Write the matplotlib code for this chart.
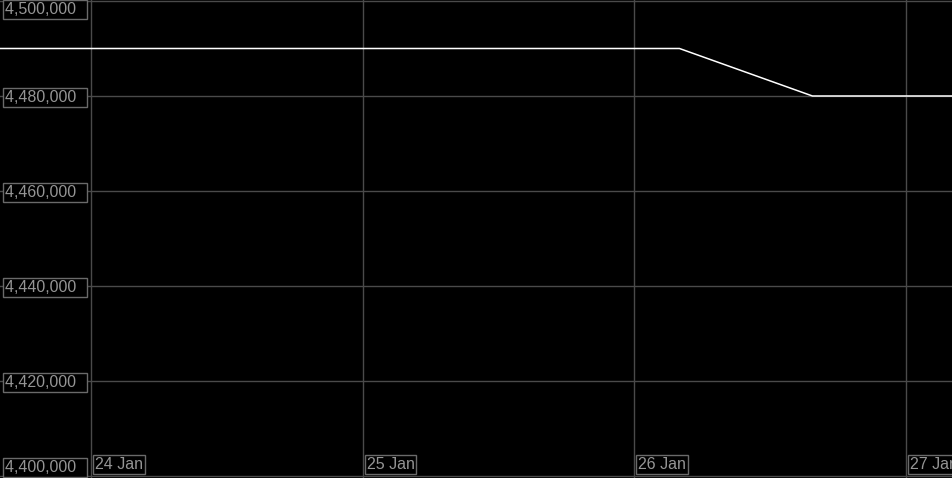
import matplotlib
matplotlib.use("Agg")
import matplotlib.pyplot as plt
import matplotlib.dates as mdates
import matplotlib.transforms as mtransforms
from datetime import datetime

# data
times = [datetime(2024, 1, 23, 15, 58), datetime(2024, 1, 26, 4, 0),
         datetime(2024, 1, 26, 15, 45), datetime(2024, 1, 27, 4, 10)]
values = [4490000, 4490000, 4480000, 4480000]
y_ticks = [4400000, 4420000, 4440000, 4460000, 4480000, 4500000]
x_ticks = [datetime(2024, 1, 24), datetime(2024, 1, 25),
           datetime(2024, 1, 26), datetime(2024, 1, 27)]
x_labels = ["24 Jan", "25 Jan", "26 Jan", "27 Jan"]

plt.rcParams["font.family"] = ["Liberation Sans", "DejaVu Sans"]
fig = plt.figure(figsize=(9.53, 4.78), dpi=100, facecolor="black")
ax = fig.add_axes([0, 0, 1, 1])
ax.set_facecolor("black")
for s in ax.spines.values():
    s.set_visible(False)

ax.plot(times, values, color="white", lw=1.1, zorder=3)

ax.set_xlim(times[0], times[-1])
ax.set_ylim(4399580, 4500210)
ax.set_xticks(x_ticks)
ax.set_yticks(y_ticks)
ax.tick_params(left=False, bottom=False, labelleft=False, labelbottom=False)
ax.grid(True, color="#4a4a4a", lw=1)

box = dict(boxstyle="square,pad=0.12", fc="black", ec="#6a6a6a", lw=1)
txt = dict(color="#959595", fontsize=11.5, zorder=5, bbox=box)

# y labels, clamped inside figure
ytrans = ax.get_yaxis_transform()
for v in y_ticks:
    label = "{:,}  ".format(v)
    if v == max(y_ticks):
        tr = mtransforms.offset_copy(ax.transAxes, fig=fig, x=5, y=-2, units="dots")
        ax.text(0, 1, label, transform=tr, ha="left", va="top", **txt)
    elif v == min(y_ticks):
        tr = mtransforms.offset_copy(ax.transAxes, fig=fig, x=5, y=3, units="dots")
        ax.text(0, 0, label, transform=tr, ha="left", va="bottom", **txt)
    else:
        tr = mtransforms.offset_copy(ytrans, fig=fig, x=5, y=0, units="dots")
        ax.text(0, v, label, transform=tr, ha="left", va="center_baseline", **txt)

# x labels
xtrans = mtransforms.offset_copy(ax.get_xaxis_transform(), fig=fig, x=4, y=6, units="dots")
for d, lab in zip(x_ticks, x_labels):
    ax.text(mdates.date2num(d), 0, lab, transform=xtrans, ha="left", va="bottom",
            clip_on=False, **txt)

plt.savefig("out.png", dpi=100, facecolor="black")
